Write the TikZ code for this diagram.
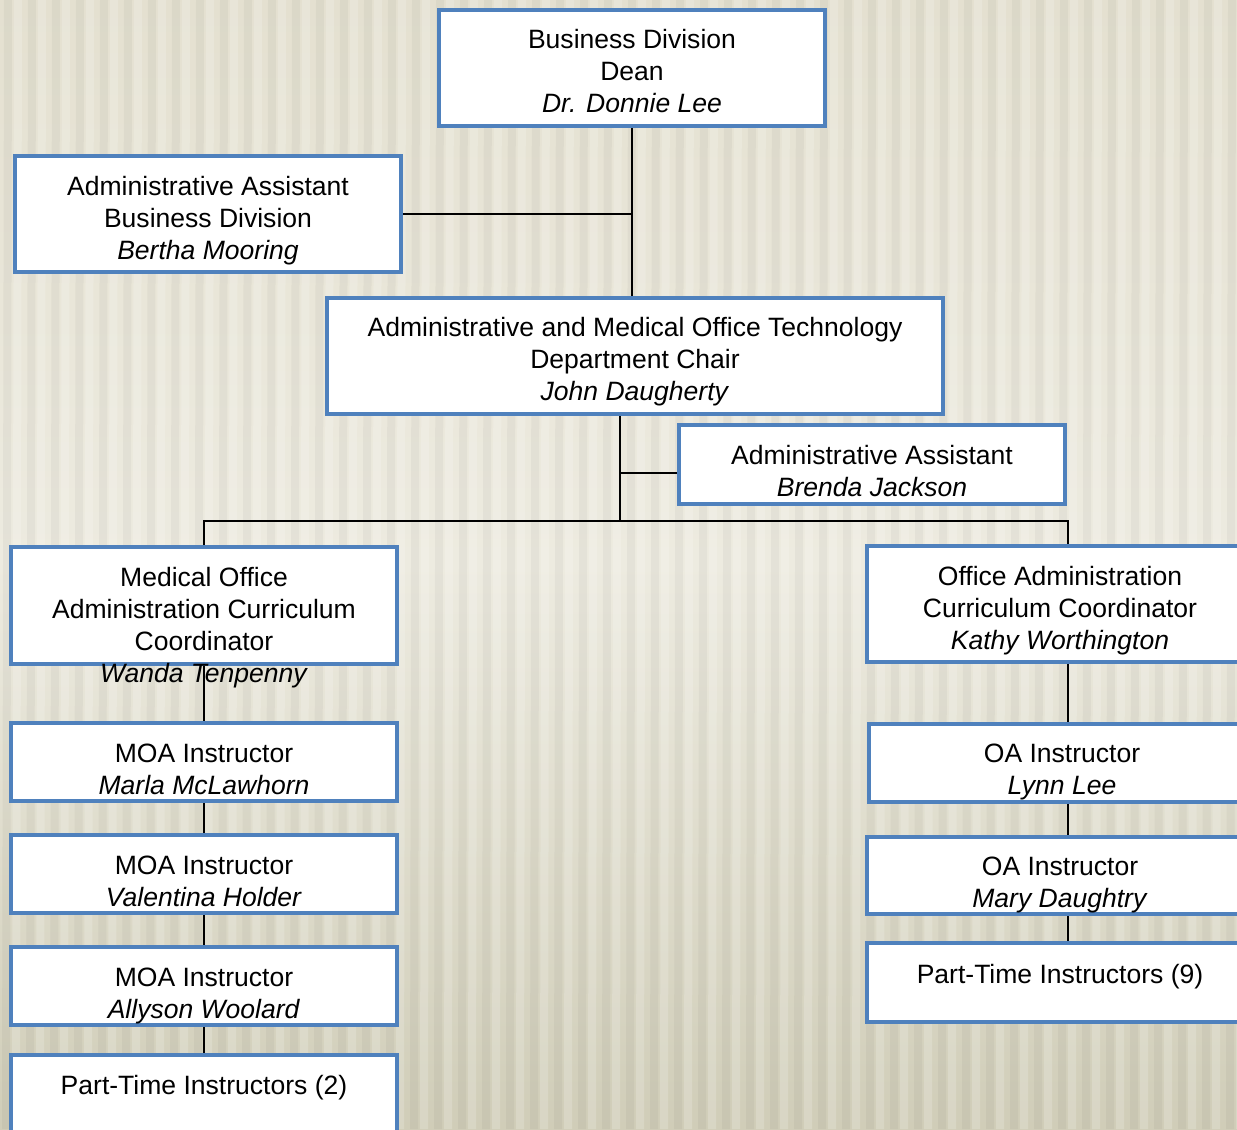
\documentclass[tikz,border=0pt]{standalone}
\usepackage{fontspec}
\setmainfont{Liberation Sans}
\definecolor{boxblue}{HTML}{4F81BD}
\definecolor{bgtop}{HTML}{E4E0D0}
\definecolor{bgmid}{HTML}{EDEBE0}
\definecolor{bgbot}{HTML}{D0CDB8}
\tikzset{
  orgbox/.style={draw=boxblue, line width=3pt, fill=white, rectangle, inner sep=0pt},
  txt/.style={align=center, font=\fontsize{19.9}{24}\selectfont, inner sep=0pt},
  link/.style={draw=black, line width=1.3pt},
}
\begin{document}
\begin{tikzpicture}[x=0.75pt, y=-0.75pt]
\useasboundingbox (0,0) rectangle (1237,1129);
\clip (0,0) rectangle (1237,1129);
% background
\shade[top color=bgtop, bottom color=bgbot, middle color=bgmid] (0,0) rectangle (1237,1129);
\foreach \i in {0,...,52} {
  \fill[black, opacity=0.035] ({\i*24+4},0) -- ({\i*24+12},0) -- ({\i*24+10},1129) -- ({\i*24+2},1129) -- cycle;
  \fill[white, opacity=0.18] ({\i*24+14},0) -- ({\i*24+22},0) -- ({\i*24+20},1129) -- ({\i*24+12},1129) -- cycle;
}

% junction points
\coordinate (hub) at (620,521);
\coordinate (asj) at (620,473);
\coordinate (xr) at (1068,521);

% boxes
\node[orgbox, minimum width=386*0.75pt, minimum height=116*0.75pt] (dean) at (632,68) {};
\node[orgbox, minimum width=386*0.75pt, minimum height=116*0.75pt] (aabd) at (208,214) {};
\node[orgbox, minimum width=616*0.75pt, minimum height=116*0.75pt] (chair) at (635,356) {};
\node[orgbox, minimum width=386*0.75pt, minimum height=79*0.75pt] (aabj) at (872,464.5) {};
\node[orgbox, minimum width=386*0.75pt, minimum height=117*0.75pt] (moac) at (204,605.5) {};
\node[orgbox, minimum width=386*0.75pt, minimum height=116*0.75pt] (oac) at (1060,604) {};
\node[orgbox, minimum width=386*0.75pt, minimum height=78*0.75pt] (moa1) at (204,762) {};
\node[orgbox, minimum width=386*0.75pt, minimum height=78*0.75pt] (moa2) at (204,874) {};
\node[orgbox, minimum width=386*0.75pt, minimum height=78*0.75pt] (moa3) at (204,986) {};
\node[orgbox, minimum width=386*0.75pt, minimum height=100*0.75pt] (pt2) at (204,1105) {};
\node[orgbox, minimum width=386*0.75pt, minimum height=78*0.75pt] (oa1) at (1062,763) {};
\node[orgbox, minimum width=386*0.75pt, minimum height=77*0.75pt] (oa2) at (1060,875.5) {};
\node[orgbox, minimum width=386*0.75pt, minimum height=79*0.75pt] (pt9) at (1060,982.5) {};

% connectors
\draw[link] (dean.south) -- (dean.south |- chair.north);
\draw[link] (aabd.east) -- (aabd.east -| dean.south);
\draw[link] (hub |- chair.south) -- (hub);
\draw[link] (asj) -- (asj -| aabj.west);
\draw[link] (moac.north) |- (hub) -| (xr |- oac.north);
\draw[link] (moac.south) -- (moa1.north);
\draw[link] (moa1.south) -- (moa2.north);
\draw[link] (moa2.south) -- (moa3.north);
\draw[link] (moa3.south) -- (pt2.north);
\draw[link] (xr |- oac.south) -- (xr |- oa1.north);
\draw[link] (xr |- oa1.south) -- (xr |- oa2.north);
\draw[link] (xr |- oa2.south) -- (xr |- pt9.north);

% texts
\node[txt] (deanT) at (632,71) {Business Division\\Dean\\\textit{Dr. Donnie Lee}};
\node[txt] (aabdT) at (208,221) {Administrative Assistant\\Business Division\\\textit{Bertha Mooring}};
\node[txt] (chairT) at (635,362) {Administrative and Medical Office Technology\\Department Chair\\\textit{John Daugherty}};
\node[txt] (aabjT) at (872,471) {Administrative Assistant\\\textit{Brenda Jackson}};
\node[txt] (moacT) at (204,628) {Medical Office\\Administration Curriculum\\Coordinator\\\textit{Wanda Tenpenny}};
\node[txt] (oacT) at (1060,611) {Office Administration\\Curriculum Coordinator\\\textit{Kathy Worthington}};
\node[txt] (moa1T) at (204,769) {MOA Instructor\\\textit{Marla McLawhorn}};
\node[txt] (moa2T) at (204,881) {MOA Instructor\\\textit{Valentina Holder}};
\node[txt] (moa3T) at (204,996) {MOA Instructor\\\textit{Allyson Woolard}};
\node[txt] (pt2T) at (204,1088) {Part-Time Instructors (2)};
\node[txt] (oa1T) at (1062,772) {OA Instructor\\\textit{Lynn Lee}};
\node[txt] (oa2T) at (1060,885) {OA Instructor\\\textit{Mary Daughtry}};
\node[txt] (pt9T) at (1060,977) {Part-Time Instructors (9)};
\end{tikzpicture}
\end{document}
